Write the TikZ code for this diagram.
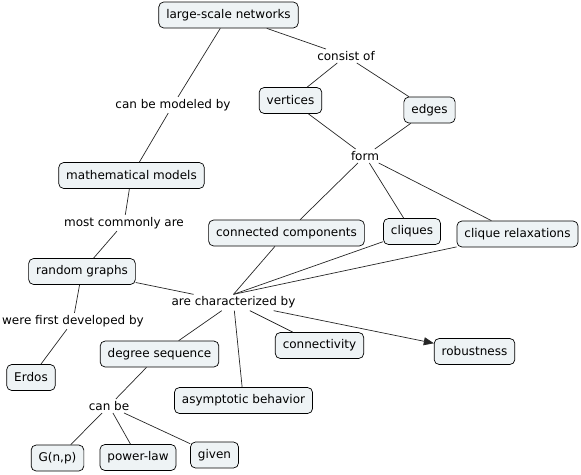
\documentclass[tikz,border=0pt]{standalone}
\usepackage{fontspec}
\setmainfont{DejaVu Sans}
\usetikzlibrary{arrows.meta}
\usetikzlibrary{positioning}

\definecolor{conceptfill}{HTML}{EEF3F5}

\begin{document}
\begin{tikzpicture}[x=1pt,y=-1pt,line width=0.7pt,
    concept/.style={draw,rounded corners=5pt,fill=conceptfill,inner xsep=7.5pt,minimum height=26pt,font=\fontsize{12}{14}\selectfont},
    link/.style={inner sep=2pt,font=\fontsize{12}{14}\selectfont},
    conn/.style={draw=black!85}]
  \useasboundingbox (0,0) rectangle (581,474);
  % concepts
  \node[concept] (networks) at (228.5,15) {large-scale networks};
  \node[concept] (vertices) at (290.5,100.5) {vertices};
  \node[concept] (edges) at (429.5,110) {edges};
  \node[concept] (models) at (131.5,175.5) {mathematical models};
  \node[concept] (components) at (286.5,233) {connected components};
  \node[concept] (cliques) at (412,231.5) {cliques};
  \node[concept] (relaxations) at (517.5,234) {clique relaxations};
  \node[concept] (random) at (82,271.5) {random graphs};
  \node[concept] (erdos) at (31,377.5) {Erdos};
  \node[concept] (degree) at (159.5,354) {degree sequence};
  \node[concept] (connectivity) at (319.5,345.5) {connectivity};
  \node[concept] (robustness) at (474.5,351.5) {robustness};
  \node[concept] (asymptotic) at (243.5,400.5) {asymptotic behavior};
  \node[concept] (gnp) at (57.5,458) {G(n,p)};
  \node[concept] (powerlaw) at (138,457.5) {power-law};
  \node[concept] (given) at (214.5,455) {given};
  % linking phrases
  \node[link] (consist) at (346,56) {consist of};
  \node[link] (modeled) at (173,105) {can be modeled by};
  \node[link] (form) at (365,156) {form};
  \node[link] (commonly) at (124,223) {most commonly are};
  \node[link] (characterized) at (233.5,302.5) {are characterized by};
  \node[link] (developed) at (73,321) {were first developed by};
  \node[link] (canbe) at (109,406) {can be};
  % connectors
  \draw[conn] (networks) -- (modeled);
  \draw[conn] (modeled) -- (models);
  \draw[conn] (networks) -- (consist);
  \draw[conn] (consist) -- (vertices);
  \draw[conn] (consist) -- (edges);
  \draw[conn] (vertices) -- (form);
  \draw[conn] (edges) -- (form);
  \draw[conn] (form) -- (components);
  \draw[conn] (form) -- (cliques);
  \draw[conn] (form) -- (relaxations);
  \draw[conn] (models) -- (commonly);
  \draw[conn] (commonly) -- (random);
  \draw[conn] (random) -- (developed);
  \draw[conn] (developed) -- (erdos);
  \draw[conn] (random) -- (characterized);
  \draw[conn] (components) -- (characterized.north);
  \draw[conn] (cliques) -- (characterized.north);
  \draw[conn] (relaxations) -- (characterized.north);
  \draw[conn] (characterized) -- (degree);
  \draw[conn] (characterized) -- (connectivity);
  \draw[conn] (characterized) -- (asymptotic);
  \draw[conn,-{Triangle[length=10pt,width=8pt]}] (characterized) -- (robustness);
  \draw[conn] (degree) -- (canbe);
  \draw[conn] (canbe) -- (gnp);
  \draw[conn] (canbe) -- (powerlaw);
  \draw[conn] (canbe) -- (given);
\end{tikzpicture}
\end{document}
